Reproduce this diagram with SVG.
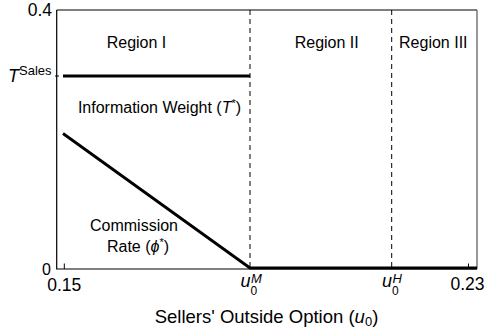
<svg xmlns="http://www.w3.org/2000/svg" width="486" height="335" viewBox="0 0 486 335">
<style>
text{font-family:"Liberation Sans",Arial,sans-serif;fill:#000}
.lab{font-size:16px}
.tick{font-size:17.5px}
.it{font-style:italic}
.thick{stroke:#000;stroke-width:2.8;fill:none}
.dash{stroke:#000;stroke-width:1;stroke-dasharray:5,4;fill:none}
</style>
<rect width="486" height="335" fill="#fff"/>
<g id="frame">
<path d="M56.7,10 H477" stroke="#000" stroke-width="1.2" fill="none"/>
<path d="M56.7,10 V269 H477" stroke="#000" stroke-width="1.2" fill="none"/>
<path d="M477,10 V269" stroke="#555" stroke-width="1.2" fill="none"/>
<path d="M64.3,269 V263.5 M468.5,269 V263.5 M55,76 H59" stroke="#000" stroke-width="1" fill="none"/>
</g>
<g id="dividers">
<path class="dash" d="M250,10 V268"/>
<path class="dash" d="M391.7,10 V268"/>
</g>
<g id="curves">
<path id="info-weight" class="thick" d="M63,76 H250"/>
<path id="commission" class="thick" d="M63,133.5 L250,268 H477"/>
</g>
<g id="axis-labels">
<text class="tick" x="52" y="16" text-anchor="end">0.4</text>
<text x="8" y="82" class="it" font-size="18">T</text><text x="19" y="75" font-size="13">Sales</text>
<text x="51" y="275" font-size="16" text-anchor="end">0</text>
<text class="tick" x="64.3" y="290.5" text-anchor="middle">0.15</text>
<text class="tick" x="467.5" y="290" text-anchor="middle">0.23</text>
<text x="240.5" y="287" font-size="18" class="it">u</text><text x="250.5" y="295" font-size="12">0</text><text x="251" y="282.5" font-size="13" class="it">M</text>
<text x="382" y="287" font-size="18" class="it">u</text><text x="392" y="295" font-size="12">0</text><text x="392.5" y="282.5" font-size="13" class="it">H</text>
<text x="266.5" y="323" font-size="18.5" text-anchor="middle">Sellers' Outside Option (<tspan class="it">u</tspan><tspan font-size="13" dy="3">0</tspan><tspan dy="-3">)</tspan></text>
</g>
<g id="regions">
<text class="lab" x="136.5" y="48" text-anchor="middle">Region I</text>
<text class="lab" x="326.7" y="48" text-anchor="middle">Region II</text>
<text class="lab" x="433.3" y="48" text-anchor="middle">Region III</text>
</g>
<g id="curve-labels">
<text class="lab" x="159.5" y="113" text-anchor="middle">Information Weight (<tspan class="it">T</tspan><tspan font-size="11" dy="-6">*</tspan><tspan dy="6">)</tspan></text>
<text class="lab" x="134" y="231" text-anchor="middle">Commission</text>
<text class="lab" x="138" y="252" text-anchor="middle">Rate (<tspan class="it">ϕ</tspan><tspan font-size="11" dy="-6">*</tspan><tspan dy="6">)</tspan></text>
</g>
</svg>
